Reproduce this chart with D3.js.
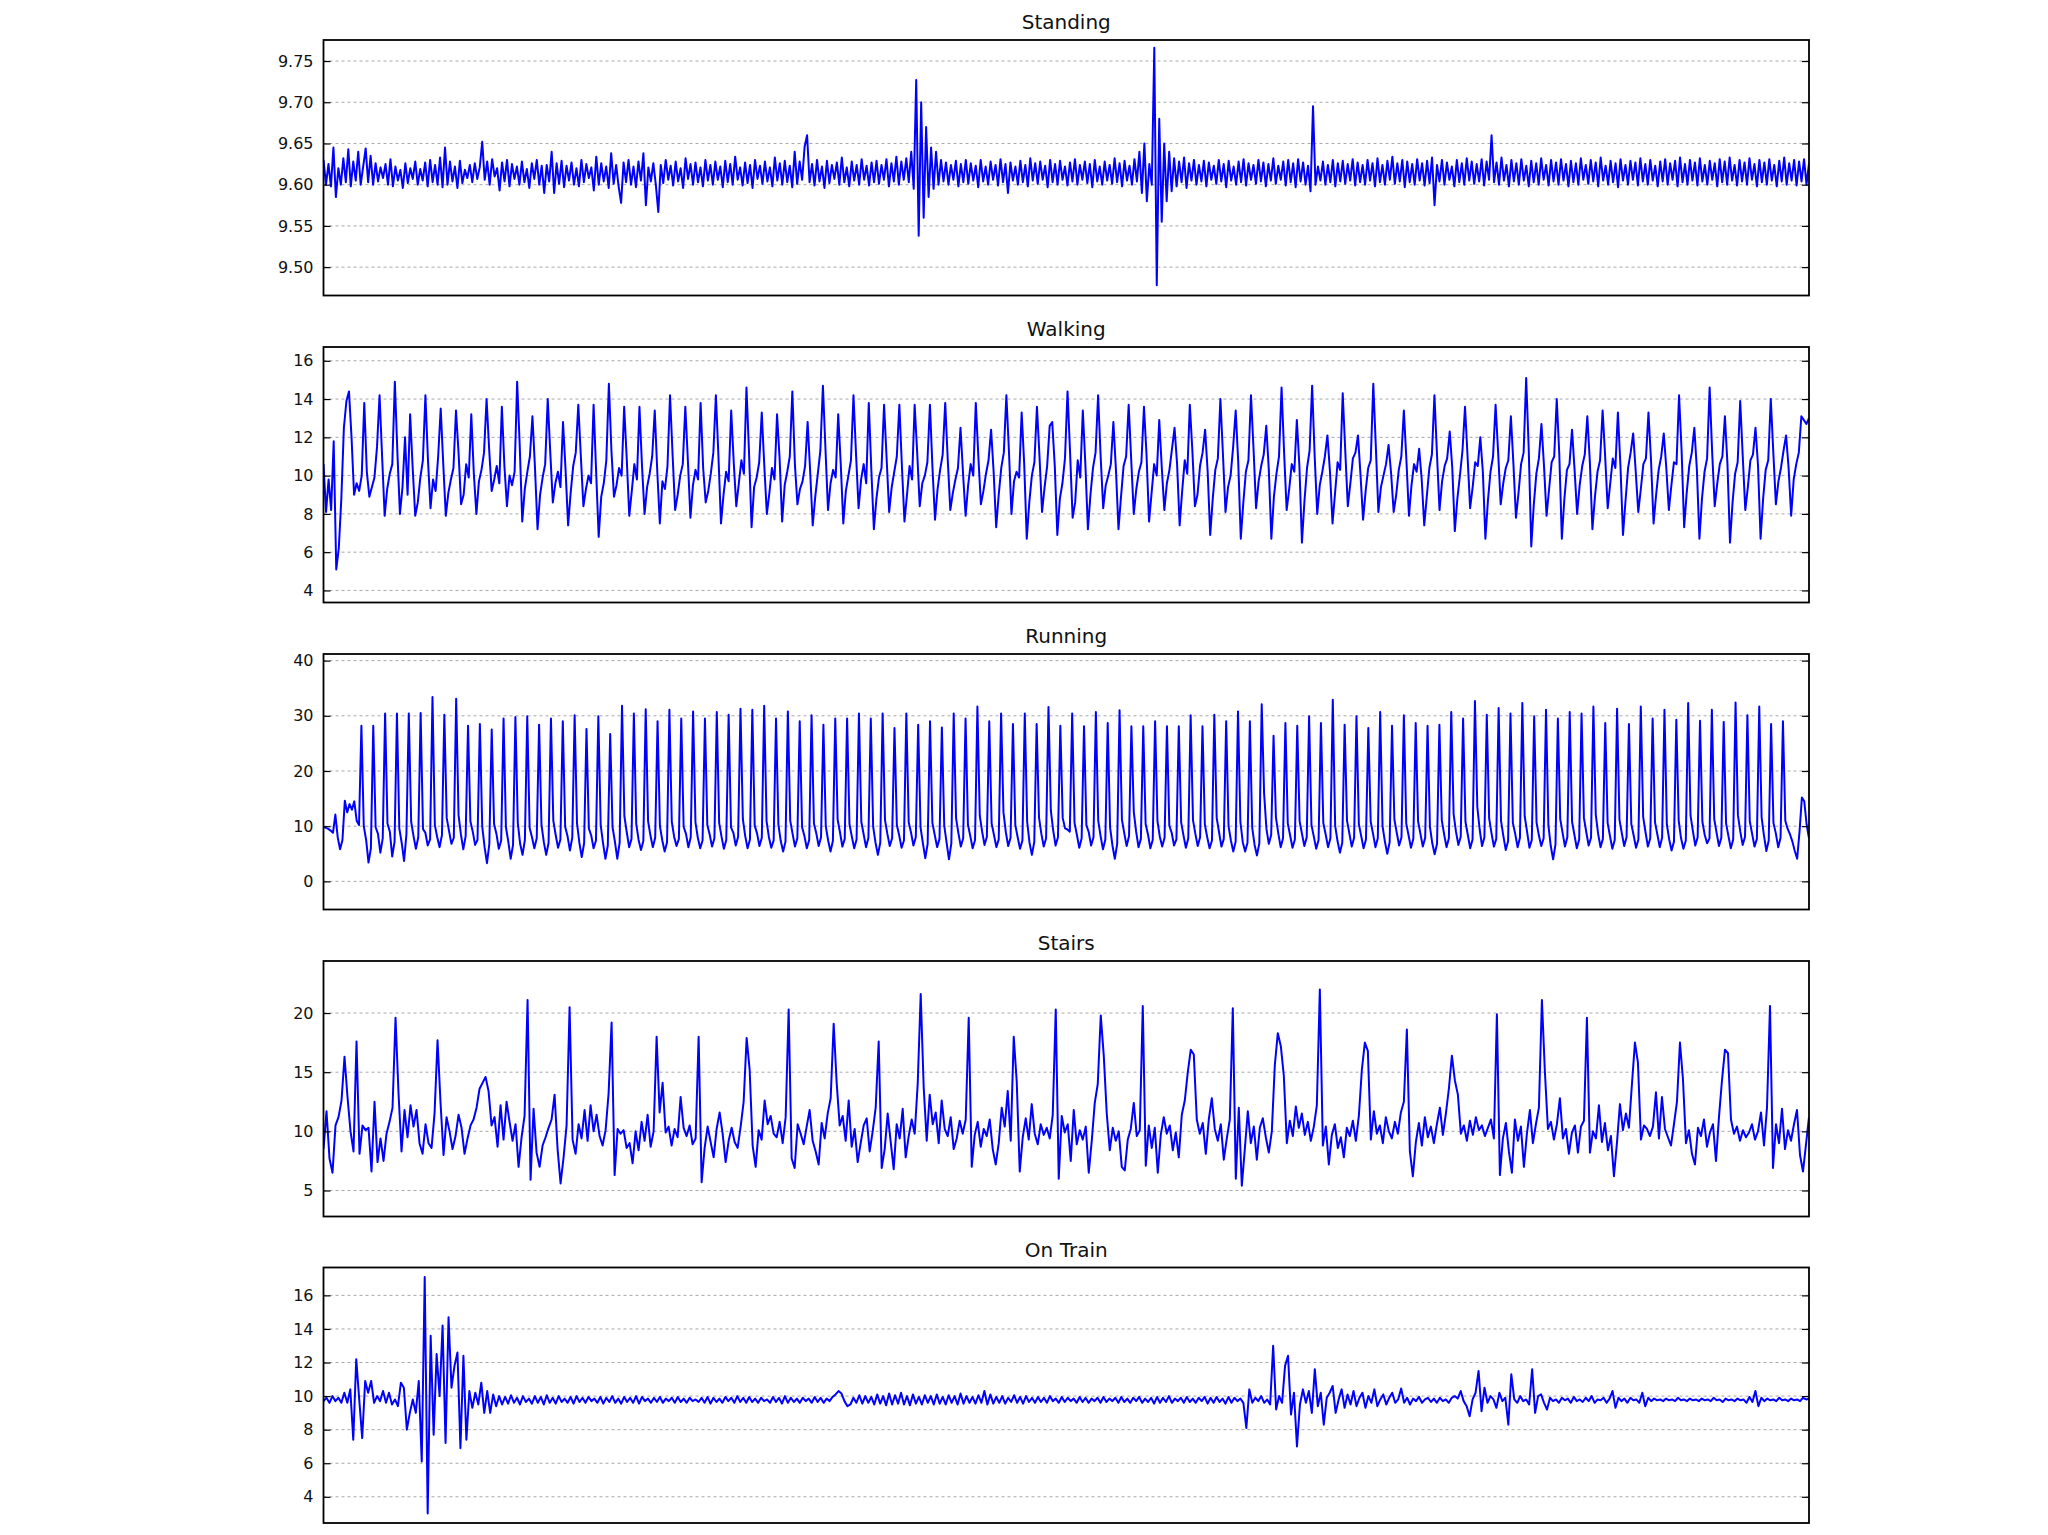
<!DOCTYPE html>
<html>
<head>
<meta charset="utf-8">
<script src="https://cdn.jsdelivr.net/npm/d3@7"></script>
<style>
  html, body { margin: 0; padding: 0; background: #fff; }
  svg { display: block; }
</style>
</head>
<body>
<svg id="chart" width="2048" height="1535"></svg>
<script>
// ---------------- DATA ----------------
const titles = ["Standing", "Walking", "Running", "Stairs", "On Train"];

const standing = [
9.63,9.60,9.625,9.598,9.645,9.585,9.62,9.60,9.632,9.603,9.643,9.598,9.628,9.605,9.64,9.600,9.622,9.644,9.603,9.635,
9.600,9.626,9.604,9.621,9.608,9.625,9.600,9.631,9.598,9.622,9.605,9.618,9.596,9.626,9.602,9.620,9.607,9.628,9.600,9.619,
9.605,9.627,9.598,9.630,9.603,9.624,9.600,9.633,9.597,9.645,9.600,9.628,9.604,9.622,9.596,9.629,9.602,9.618,9.608,9.624,
9.603,9.626,9.607,9.621,9.652,9.606,9.628,9.600,9.631,9.610,9.620,9.593,9.627,9.604,9.630,9.598,9.625,9.607,9.622,9.600,
9.628,9.603,9.619,9.596,9.626,9.607,9.630,9.600,9.623,9.590,9.624,9.604,9.640,9.590,9.626,9.601,9.629,9.597,9.623,9.605,
9.627,9.600,9.620,9.598,9.630,9.603,9.625,9.608,9.621,9.593,9.634,9.600,9.626,9.604,9.622,9.596,9.638,9.601,9.624,9.598,
9.578,9.627,9.603,9.630,9.600,9.622,9.597,9.628,9.605,9.638,9.575,9.621,9.604,9.626,9.600,9.567,9.624,9.602,9.630,9.606,
9.623,9.599,9.628,9.604,9.620,9.596,9.632,9.607,9.625,9.600,9.627,9.603,9.621,9.598,9.630,9.605,9.624,9.600,9.628,9.606,
9.622,9.597,9.629,9.603,9.625,9.600,9.634,9.606,9.621,9.599,9.627,9.602,9.624,9.596,9.630,9.607,9.623,9.601,9.628,9.604,
9.621,9.598,9.633,9.605,9.626,9.600,9.629,9.603,9.623,9.597,9.640,9.601,9.628,9.606,9.646,9.660,9.603,9.625,9.599,9.630,
9.604,9.622,9.596,9.629,9.602,9.624,9.607,9.627,9.600,9.633,9.603,9.621,9.598,9.628,9.605,9.624,9.600,9.631,9.606,9.623,
9.599,9.627,9.603,9.629,9.601,9.624,9.606,9.631,9.598,9.626,9.604,9.634,9.600,9.628,9.606,9.632,9.603,9.640,9.595,9.727,
9.538,9.700,9.560,9.670,9.585,9.645,9.595,9.640,9.600,9.630,9.604,9.627,9.600,9.624,9.606,9.629,9.598,9.625,9.603,9.630,
9.601,9.626,9.605,9.623,9.597,9.630,9.604,9.622,9.600,9.628,9.606,9.624,9.599,9.631,9.603,9.625,9.590,9.627,9.605,9.622,
9.600,9.629,9.603,9.624,9.598,9.632,9.605,9.626,9.601,9.628,9.606,9.623,9.597,9.630,9.603,9.625,9.600,9.629,9.606,9.622,
9.599,9.627,9.604,9.631,9.600,9.624,9.606,9.628,9.602,9.625,9.597,9.630,9.604,9.622,9.600,9.628,9.605,9.624,9.601,9.632,
9.603,9.626,9.598,9.629,9.605,9.623,9.600,9.631,9.604,9.640,9.590,9.650,9.580,9.625,9.600,9.766,9.478,9.680,9.555,9.650,
9.580,9.640,9.592,9.632,9.598,9.628,9.603,9.633,9.596,9.626,9.605,9.630,9.600,9.624,9.604,9.629,9.598,9.627,9.606,9.623,
9.601,9.630,9.604,9.625,9.597,9.629,9.605,9.622,9.600,9.628,9.603,9.631,9.599,9.626,9.606,9.624,9.601,9.630,9.604,9.627,
9.598,9.625,9.605,9.632,9.601,9.623,9.606,9.628,9.599,9.630,9.603,9.626,9.597,9.631,9.604,9.627,9.600,9.623,9.592,9.695,
9.600,9.622,9.605,9.628,9.600,9.624,9.603,9.630,9.598,9.626,9.604,9.629,9.601,9.625,9.605,9.631,9.599,9.627,9.603,9.624,
9.600,9.630,9.605,9.626,9.598,9.632,9.603,9.624,9.600,9.629,9.606,9.634,9.601,9.626,9.604,9.630,9.597,9.628,9.603,9.625,
9.600,9.631,9.605,9.626,9.599,9.629,9.602,9.633,9.575,9.624,9.604,9.630,9.600,9.627,9.606,9.622,9.598,9.630,9.603,9.626,
9.600,9.632,9.605,9.628,9.601,9.625,9.604,9.631,9.599,9.628,9.606,9.660,9.603,9.627,9.600,9.633,9.605,9.624,9.598,9.630,
9.604,9.626,9.600,9.631,9.605,9.623,9.598,9.629,9.603,9.626,9.600,9.632,9.606,9.624,9.599,9.630,9.604,9.627,9.600,9.631,
9.605,9.625,9.598,9.629,9.603,9.626,9.600,9.632,9.606,9.624,9.601,9.630,9.604,9.627,9.598,9.633,9.605,9.623,9.600,9.629,
9.603,9.626,9.597,9.631,9.605,9.624,9.600,9.629,9.606,9.627,9.599,9.632,9.604,9.625,9.600,9.630,9.605,9.623,9.598,9.628,
9.604,9.631,9.600,9.626,9.606,9.629,9.598,9.633,9.603,9.625,9.600,9.630,9.605,9.627,9.599,9.632,9.604,9.624,9.600,9.629,
9.606,9.626,9.598,9.631,9.603,9.628,9.600,9.633,9.605,9.624,9.599,9.630,9.604,9.627,9.600,9.632,9.606,9.625,9.598,9.630,
9.603,9.627,9.600,9.631,9.605,9.624,9.598,9.629,9.604,9.633,9.600,9.626,9.605,9.630,9.599,9.628,9.604,9.631,9.600,9.626
];

const walking = [
10.6,8.1,9.8,8.2,11.8,5.1,6.2,8.8,12.5,13.9,
14.4,12.0,9.0,9.6,9.2,10.0, 13.8,10.2,8.9,9.4,9.9,11.5, 14.2,11.0,7.9,9.3,10.1,10.6, 14.9,11.2,8.0,9.4,12.0,9.0,
13.2,10.4,7.9,8.6,9.9,10.8, 14.2,10.8,8.3,9.8,9.2,11.0, 13.5,10.6,7.9,9.1,9.8,10.4, 13.4,11.2,8.5,9.0,10.6,9.9,
13.2,10.1,8.0,9.7,10.3,11.2, 14.0,11.4,9.2,9.8,10.5,9.6, 13.6,10.5,8.4,10.0,9.5,10.2, 14.9,11.6,7.6,9.3,10.2,11.0,
13.1,10.4,7.2,9.0,9.9,10.6, 14.0,11.2,8.6,9.6,10.2,9.4, 12.8,10.3,7.4,9.1,10.5,11.2, 13.7,11.0,8.4,9.3,10.0,9.6,
13.7,10.2,6.8,8.9,9.6,10.8, 14.8,11.3,8.9,9.5,10.4,10.0, 13.6,10.9,7.9,9.2,10.6,9.8, 13.6,10.5,8.0,9.4,10.1,11.0,
13.4,10.2,7.5,9.7,9.3,10.5, 14.2,11.1,8.2,9.0,10.0,10.6, 13.6,10.8,7.8,9.5,10.3,9.8, 13.8,10.4,8.6,9.2,10.1,11.2,
14.2,11.0,7.5,9.0,10.2,9.7, 13.4,10.7,8.4,9.6,10.8,10.1, 14.6,11.2,7.3,9.4,9.9,10.7, 13.3,10.5,8.0,9.1,10.4,9.8,
13.2,10.9,7.6,9.5,10.2,11.0, 14.4,10.6,8.5,9.3,9.7,10.5, 12.8,10.2,7.4,8.9,10.1,11.3, 14.7,11.4,8.2,9.6,10.3,9.9,
13.2,10.6,7.5,9.2,10.0,10.8, 14.2,11.1,8.3,9.8,10.6,9.6, 13.8,10.3,7.2,8.8,9.9,10.4, 13.7,10.9,8.1,9.4,10.2,11.0,
13.7,10.5,7.6,9.0,10.5,9.8, 13.7,11.2,8.4,9.6,10.0,10.7, 13.7,10.4,7.7,9.3,10.3,11.1, 13.8,10.8,8.2,9.1,9.8,10.4,
12.5,10.1,7.9,9.5,10.6,10.0, 13.8,11.0,8.5,9.2,10.1,10.8, 12.4,10.2,7.3,9.0,10.4,11.2, 14.2,11.3,8.0,9.7,10.2,9.9,
13.3,10.6,6.7,8.6,10.0,10.7, 13.6,11.0,8.1,9.4,10.5,12.6, 12.8,10.5,6.9,8.8,9.6,10.9,
14.4,11.2,7.8,8.6,10.8,9.9, 13.4,10.6,7.2,9.0,10.4,11.2, 14.2,11.0,8.3,9.5,10.0,10.6, 12.8,10.3,7.2,8.9,10.5,11.0,
13.7,10.8,8.0,9.3,10.2,10.7, 13.6,11.1,7.6,9.1,10.6,10.0, 12.9,10.4,8.2,9.6,10.3,11.4, 12.5,10.6,7.4,9.2,10.8,10.1,
13.7,11.3,8.4,9.0,10.5,11.2, 12.4,10.2,6.9,8.8,10.3,10.9, 14.0,11.1,8.1,9.4,10.0,11.5, 13.4,10.7,6.7,8.6,10.2,10.8,
14.2,11.4,8.3,9.7,10.5,11.1, 12.6,10.3,6.7,8.9,10.1,11.0, 14.6,11.2,8.2,9.3,10.6,10.2, 12.9,10.5,6.5,8.7,10.4,11.3,
14.7,11.0,8.0,9.5,10.2,11.0, 12.1,10.2,7.5,9.1,10.7,10.3, 14.3,11.3,8.4,9.6,10.9,11.2, 12.1,10.0,7.7,9.2,10.4,10.8,
14.8,11.5,8.1,9.4,10.0,10.6, 11.6,10.1,8.1,9.0,10.3,11.0, 13.4,10.8,7.9,9.5,10.6,10.2, 11.4,9.8,7.4,8.9,10.4,11.1,
14.2,11.1,8.2,9.7,10.5,10.9, 12.3,10.4,7.1,8.8,10.0,11.3, 13.6,11.0,8.3,9.4,10.7,10.5, 12.0,10.2,6.7,8.7,10.2,11.0,
13.7,11.2,8.5,9.6,10.4,10.8, 13.1,10.6,7.8,9.1,10.6,11.2, 15.1,11.4,6.3,8.5,10.1,10.9, 12.7,10.5,7.9,9.3,10.7,11.0,
14.0,11.1,6.7,8.8,10.3,10.6, 12.4,10.3,8.0,9.5,10.5,11.1, 13.1,10.7,7.2,8.9,10.2,10.8, 13.4,11.0,8.3,9.6,10.9,10.4,
13.3,10.5,6.9,8.7,10.4,11.2, 12.2,10.2,8.1,9.3,10.6,10.9, 13.3,10.8,7.5,9.0,10.3,11.0, 12.2,10.4,8.2,9.5,10.7,10.6,
14.2,11.3,7.3,9.1,10.5,11.2, 12.5,10.3,6.7,8.8,10.2,10.9, 14.6,11.2,8.4,9.6,10.6,11.0, 13.1,10.6,6.5,8.6,10.1,10.7,
13.9,11.0,8.2,9.4,10.8,11.1, 12.5,10.5,6.7,8.8,10.3,10.8, 14.0,11.2,8.5,9.7,10.4,11.3, 12.1,10.4,7.9,9.8,10.6,11.2,
13.1,12.9,12.7,13.0
];

const running = [
9.9,9.7,9.5,9.2,8.8,12.1,8.0,5.8,7.5,14.6,12.5,14.0,13.0,14.5,11.0,10.2,
28.2,10.0,7.5,3.4,6.0, 28.2,9.8,8.6,5.2,7.8, 30.4,10.5,9.0,4.5,7.2, 30.4,9.6,7.0,3.7,8.5, 30.4,10.8,8.2,5.9,8.0,
30.5,9.5,8.8,6.5,7.6, 33.4,10.2,8.0,6.2,8.4, 30.2,11.5,9.1,6.8,7.9, 33.1,12.0,8.5,5.8,8.2, 28.2,10.9,9.0,6.6,7.5,
28.5,9.9,6.2,3.3,6.8, 27.5,10.4,8.6,5.9,7.4, 29.5,9.8,7.2,4.1,6.6, 29.8,10.6,6.8,4.8,7.5, 29.9,9.7,8.0,6.0,7.8,
28.4,10.3,7.1,4.8,7.0, 29.5,11.0,8.4,6.1,7.6, 29.0,9.9,8.2,5.6,7.9, 30.1,10.5,7.0,4.4,6.9, 27.6,9.6,8.3,6.0,7.4,
29.9,10.2,6.9,4.1,6.5, 26.7,9.8,7.2,4.1,7.0, 31.8,11.8,8.9,6.2,7.7, 30.4,10.4,7.5,5.7,7.3, 31.2,10.9,8.3,6.2,7.9,
29.0,10.0,7.4,5.4,7.1, 31.1,10.8,8.1,6.4,7.7, 29.5,9.9,8.6,6.2,8.0, 30.8,10.7,7.9,6.0,7.4, 29.5,10.2,8.5,6.3,7.8,
30.7,10.6,8.1,5.9,7.5, 30.2,9.8,8.8,6.5,8.1, 31.3,11.3,8.2,6.0,7.6, 31.1,10.1,8.7,6.4,7.9, 31.8,10.9,8.0,6.1,7.4,
29.5,10.3,7.3,5.4,7.2, 30.8,11.0,8.6,6.3,7.8, 29.0,9.8,8.2,6.0,7.5, 30.1,10.5,8.7,6.4,8.0, 28.4,10.0,7.4,5.4,7.3,
29.5,11.2,8.9,6.3,7.7, 29.5,10.4,8.1,6.0,7.6, 30.4,10.8,8.5,6.2,7.9, 29.5,9.9,7.0,4.8,7.0, 30.4,11.1,8.6,6.4,7.8,
27.8,10.2,8.3,6.1,7.4, 30.4,10.7,8.8,6.5,8.0, 28.4,9.8,6.9,4.2,6.8, 29.0,10.6,8.4,6.2,7.7, 27.9,10.1,7.0,4.0,6.9,
30.4,11.4,8.7,6.3,7.8, 29.5,10.3,8.2,6.0,7.5, 31.7,11.9,9.0,6.6,8.1, 29.0,10.5,8.4,6.2,7.6, 30.4,12.5,8.9,6.4,7.9,
28.5,10.2,8.0,5.9,7.4, 30.4,10.8,7.0,4.8,7.1, 28.5,11.6,8.6,6.3,7.8, 31.6,12.8,9.2,6.5,8.0, 28.2,11.5,9.6,9.4,9.0,
30.4,10.6,8.4,6.1,7.8, 28.1,10.2,8.9,6.5,8.0, 30.7,11.0,8.2,5.8,7.6, 28.7,9.8,6.5,4.1,6.8, 31.0,11.2,8.7,6.4,8.2,
28.1,12.6,9.0,6.2,7.7, 28.1,10.4,8.5,6.0,7.5, 29.0,10.9,8.1,6.3,7.9, 28.1,10.1,8.8,6.5,7.6, 28.1,10.7,8.3,6.1,7.8,
30.1,11.1,8.6,6.4,8.0, 28.1,10.3,8.0,6.0,7.4, 30.2,11.5,8.9,6.3,7.7, 29.0,10.0,7.4,5.4,7.2, 30.8,10.8,7.1,5.4,7.0,
29.0,9.7,6.6,4.7,6.9, 32.1,16.0,9.5,6.8,8.4, 26.4,11.6,8.7,6.2,7.8, 28.7,10.5,8.3,6.1,7.6, 28.2,10.9,8.6,6.4,8.0,
29.9,10.2,8.1,5.9,7.5, 28.7,10.6,8.5,6.2,7.8, 32.9,10.1,7.3,5.2,7.0, 28.4,11.0,8.7,6.3,7.9, 29.9,10.4,8.2,6.0,7.6,
27.8,10.8,8.6,6.2,7.8, 30.7,10.0,7.2,5.0,7.1, 28.2,11.2,8.8,6.5,8.0, 30.1,10.5,8.3,6.1,7.7, 28.7,10.9,8.6,6.3,7.9,
28.2,9.9,6.9,4.9,6.8, 28.4,11.1,8.5,6.2,7.8, 30.7,12.2,9.0,6.6,8.1, 29.5,10.8,8.4,6.0,7.6, 32.7,13.5,9.4,6.4,8.0,
30.2,11.4,8.7,6.3,7.7, 31.4,11.0,8.2,5.7,7.3, 30.4,10.6,8.6,6.2,7.9, 32.3,11.8,9.0,6.1,7.5, 29.9,10.7,8.3,6.4,7.8,
31.1,10.2,6.4,4.0,6.7, 29.5,11.3,8.8,6.3,8.0, 30.7,10.8,8.4,6.0,7.6, 30.4,11.5,8.9,6.5,7.9, 31.7,12.1,8.6,6.2,7.7,
28.7,10.6,8.2,5.9,7.5, 31.3,11.2,8.7,6.4,8.0, 28.5,10.4,8.3,6.1,7.6, 31.7,11.7,8.9,6.3,7.8, 29.5,10.7,8.5,6.2,7.9,
31.1,10.3,7.6,5.6,7.2, 29.3,11.0,7.8,5.9,7.4, 32.3,11.9,9.1,6.5,8.0, 29.1,10.8,8.4,6.9,7.8, 31.1,11.3,8.8,6.4,7.9,
28.9,10.5,8.2,6.0,7.6, 32.4,12.0,9.0,6.6,8.1, 30.1,10.9,8.6,6.3,7.7, 31.7,11.6,8.3,5.5,7.4, 28.5,10.6,8.7,6.2,7.9,
29.0,11.0,9.5,8.5,7.2,
5.5,4.1,9.0,15.2,14.5,10.3,7.8
];

const stairs = [
8.5,11.7,7.7,6.5,10.5,11.2,12.6, 16.3, 12.9,10.0,8.3, 17.6,
8.1,10.5,10.1,10.3,6.6,12.5,7.4,9.4,7.5,9.8,10.8,12.0, 19.6,
13.2,8.3,11.8,9.5,12.2,10.4,11.8,9.0,8.1,10.6,9.0,8.6,11.5, 17.7,
12.4,8.0,11.2,10.0,8.5,9.6,11.4,10.3,8.1,9.4,10.5,11.0,12.0,13.6,14.1, 14.6,
13.4,10.5,11.2,8.7,12.2,9.3,12.5,10.8,9.2,10.6,7.0,9.5,11.3, 21.1,
5.9,11.9,8.2,7.0,8.8,9.5,10.3,11.0,13.1,8.5,5.6,7.8,10.5, 20.5,
9.3,8.1,10.6,9.4,11.8,9.2,12.2,10.0,11.4,9.6,8.8,10.1,13.2, 19.2,
6.3,10.2,9.8,10.1,8.6,9.0,7.3,10.0,8.4,10.8,9.2,11.4,8.7,10.0, 18.0,
11.6,14.1,9.9,10.4,8.8,10.2,9.5,12.9,10.3,9.6,10.5,8.9,9.4, 18.0,
5.7,8.6,10.4,9.1,7.8,10.2,11.6,9.8,7.4,9.2,10.3,9.1,8.6,10.4,12.5, 17.9,
15.2,8.8,7.0,10.1,9.3,12.6,10.6,11.3,9.8,9.5,10.8,9.0,11.2, 20.3,
7.7,6.9,10.6,9.8,8.9,10.4,11.8,9.2,8.3,7.2,10.7,9.4,11.5,12.8, 19.1,
14.1,10.5,11.3,9.2,12.6,8.7,10.2,7.4,9.0,10.5,11.1,8.3,10.0,12.0, 17.6,
6.9,8.5,11.5,9.1,6.8,10.6,9.4,11.9,7.8,9.6,11.0,9.8,14.0, 21.6,
13.7,9.2,13.1,10.6,11.6,9.0,12.6,10.2,9.6,11.2,8.5,9.4,10.9,9.8,11.0, 19.6,
7.0,9.7,10.8,8.7,10.2,9.6,11.0,8.5,7.2,9.0,12.0,10.4,13.4,9.2, 18.0,
14.2,6.6,9.5,11.1,9.3,12.3,9.8,8.9,10.6,9.7,10.3,9.4,11.4, 20.3,
6.0,11.3,9.9,10.6,7.5,11.8,8.9,10.1,9.3,10.4,6.5,9.2,12.4,14.0, 19.8,
16.4,11.5,8.4,10.3,9.2,10.0,7.0,6.7,9.3,10.2,12.4,9.6,10.1, 20.6,
7.1,10.5,8.6,10.3,6.5,9.7,11.2,9.8,10.5,8.4,9.9,7.8,11.4,12.6,15.0, 16.9,
16.5,11.0,9.8,10.7,8.1,11.0,12.8,10.2,9.2,10.6,7.6,9.4,11.0, 20.4,
6.0,12.0,5.4,8.5,11.7,9.0,10.4,7.6,10.3,11.1,9.5,8.2,10.0,15.6, 18.3,
17.2,14.7,9.0,10.9,9.6,12.1,10.3,11.5,9.7,10.8,9.2,10.4,12.2, 22.0,
8.8,10.4,7.2,9.7,10.6,8.6,9.5,7.8,10.3,9.6,10.9,9.2,11.3,15.2, 17.5,
16.8,9.3,11.7,9.8,10.5,9.0,11.2,10.0,9.4,10.8,9.8,11.6,12.5, 18.6,
8.3,6.2,9.1,10.7,8.8,11.2,9.5,10.4,9.0,10.6,12.0,9.7,11.5,13.6, 16.4,
14.3,13.1,9.8,10.5,9.2,10.9,9.7,11.2,10.1,10.5,9.6,10.3,11.0,9.4, 19.9,
6.3,9.4,10.7,8.3,6.5,11.0,9.2,10.4,7.0,9.8,11.8,9.0,10.6,12.0, 21.1,
15.0,10.2,10.8,9.3,10.6,12.8,9.4,10.2,8.1,9.9,10.5,8.2,10.4,10.9, 19.6,
8.2,10.0,9.4,12.2,9.1,10.7,8.4,9.6,6.2,9.0,12.3,10.1,11.5,10.3,14.0, 17.5,
15.8,9.3,10.5,10.2,9.6,10.4,13.3,9.4,12.9,10.2,9.5,8.8,10.6,12.5, 17.5,
14.4,9.0,10.1,8.1,7.2,10.3,9.6,11.0,8.7,9.9,10.6,7.5,11.2,14.3, 16.9,
16.6,11.0,9.8,10.4,9.2,10.1,9.5,9.9,10.6,9.3,10.0,11.6,8.8,12.0, 20.6,
6.9,10.6,9.0,11.9,8.5,10.1,9.2,10.6,11.8,8.0,6.6,8.9,11.2
];

const onTrain = [
9.7,9.9,9.6,10.0,9.7,9.9,9.6,
10.2,9.6,10.4,7.4,12.2,
9.8,7.5,10.9,10.2,10.9,9.6,10.0,9.7,10.3,9.6,10.2,9.5,9.8,9.4,
10.8,10.5,8.0,9.0,9.8,9.0,10.9,
6.1,
17.1,3.0,13.6,7.7,12.5,10.0,14.2,7.2,14.7,10.5,11.8,12.6,6.9,12.4,7.4,
10.3,9.3,10.2,9.5,10.8,9.0,10.3,9.0,10.1,9.4,10.0,9.5,
9.95,9.55,10.05,9.6,9.9,9.5,10.0,9.65,9.85,9.55,10.0,9.6,9.95,9.5,10.05,9.6,9.9,9.55,10.0,9.65,
9.85,9.6,9.95,9.55,10.0,9.65,9.9,9.6,9.95,9.7,9.85,9.6,9.95,9.55,9.9,9.65,10.0,9.6,9.85,9.55,
9.95,9.65,9.9,9.6,10.0,9.55,9.95,9.7,9.85,9.6,9.9,9.65,9.95,9.6,9.85,9.7,9.9,9.6,9.95,9.65,
9.85,9.6,9.9,9.7,9.8,9.65,9.9,9.6,9.95,9.55,9.9,9.65,9.85,9.6,9.95,9.7,9.9,9.6,10.0,9.65,
9.9,9.6,9.95,9.65,9.85,9.6,9.9,9.7,9.8,9.6,9.95,9.65,9.9,9.55,10.0,9.6,9.9,9.65,9.85,9.6,
9.9,9.7,9.85,9.6,9.95,9.65,9.9,9.6,9.85,9.7,9.95,10.1,10.3,10.15,9.7,9.4,9.5,9.9,9.6,10.05,
9.55,10.0,9.6,9.95,9.5,10.1,9.55,10.0,9.45,10.15,9.5,10.05,9.55,10.2,9.5,10.0,9.45,10.1,9.55,9.95,
9.5,10.05,9.6,10.0,9.5,10.1,9.55,9.95,9.5,10.05,9.6,10.0,9.5,10.15,9.55,10.0,9.6,9.95,9.55,10.05,
9.6,10.3,9.5,10.1,9.55,9.95,9.6,10.0,9.55,9.9,9.65,10.05,9.6,9.95,9.55,10.0,9.65,9.9,9.6,9.95,
9.65,9.9,9.6,10.0,9.7,9.85,9.6,9.95,9.65,9.9,9.7,9.85,9.6,9.95,9.65,9.9,9.6,9.85,9.7,9.9,
9.6,9.95,9.65,9.85,9.7,9.9,9.6,9.95,9.65,9.85,9.6,9.9,9.7,9.95,9.6,9.85,9.65,9.9,9.55,9.95,
9.6,9.9,9.65,10.0,9.6,9.85,9.7,9.9,9.6,9.95,9.65,9.85,9.6,9.9,9.7,9.95,9.55,9.9,9.6,9.95,
9.65,9.85,9.55,9.95,9.6,9.9,9.7,9.85,9.6,
8.1,10.4,9.6,9.9,9.7,10.0,9.6,9.8,9.5,13.0,9.2,10.0,9.6,11.8,12.4,8.9,10.2,7.0,9.5,10.4,
9.6,10.3,9.0,11.6,9.4,10.2,8.3,9.9,10.2,10.6,9.0,9.8,10.4,9.3,10.1,
9.5,10.3,9.4,9.9,10.2,9.3,10.0,9.6,10.4,9.4,9.8,10.1,9.5,9.9,10.2,9.6,9.8,10.45,9.6,9.9,
9.5,9.85,9.7,9.95,9.6,9.8,9.9,9.65,9.85,9.6,9.9,9.7,9.8,9.6,9.9,10.0,9.85,
10.3,9.7,9.4,8.8,9.8,10.2,11.5,9.1,10.5,9.6,10.0,9.8,9.3,10.2,9.7,9.9,8.3,11.3,9.8,9.6,
10.0,9.7,9.8,9.5,11.6,9.0,10.0,10.1,9.6,9.2,
9.9,9.7,9.8,9.6,9.9,9.75,9.85,9.6,9.95,9.7,9.8,9.65,9.9,9.7,10.0,9.6,9.8,9.75,9.9,9.6,
9.85,10.3,9.3,9.9,9.7,9.85,9.6,9.9,9.75,9.8,9.6,10.2,9.4,9.9,9.7,9.85,9.75,9.8,9.7,9.85,
9.75,9.8,9.7,9.9,9.75,9.8,9.7,9.85,9.75,9.8,9.7,9.85,9.75,9.8,9.7,9.9,9.75,9.8,9.65,9.85,
9.75,9.8,9.7,9.85,9.75,9.8,9.6,9.95,9.65,10.3,9.4,9.9,9.7,9.85,9.75,9.8,9.7,9.9,9.75,9.8,
9.7,9.85,9.75,9.8,9.7,9.9,9.8,9.85
];

const series = [standing, walking, running, stairs, onTrain];

// axis limits and tick labels per panel
const yLimits = [[9.4656, 9.7755], [3.37, 16.72], [-5.1, 41.2], [2.8, 24.4], [2.44, 17.66]];
const yTickValues = [
  [9.50, 9.55, 9.60, 9.65, 9.70, 9.75],
  [4, 6, 8, 10, 12, 14, 16],
  [0, 10, 20, 30, 40],
  [5, 10, 15, 20],
  [4, 6, 8, 10, 12, 14, 16]
];
const yTickFormats = [".2f", "d", "d", "d", "d"];

// ---------------- LAYOUT ----------------
const left = 323.5, right = 1809;
const panelTops = [40, 347, 654, 961, 1267.5];
const panelH = 255.5;

const svg = d3.select("#chart");
const font = "DejaVu Sans, Liberation Sans, sans-serif";

series.forEach((data, p) => {
  const top = panelTops[p], bottom = top + panelH;
  const x = d3.scaleLinear().domain([0, data.length - 1]).range([left, right]);
  const y = d3.scaleLinear().domain(yLimits[p]).range([bottom, top]);

  const g = svg.append("g");

  g.append("clipPath").attr("id", "clip" + p)
    .append("rect").attr("x", left).attr("y", top)
    .attr("width", right - left).attr("height", panelH);

  // grid
  g.selectAll(".grid").data(yTickValues[p]).enter().append("line")
    .attr("x1", left).attr("x2", right)
    .attr("y1", d => y(d)).attr("y2", d => y(d))
    .attr("stroke", "#a8a8a8").attr("stroke-width", 1)
    .attr("stroke-dasharray", "3,3");

  // line
  const line = d3.line().x((d, i) => x(i)).y(d => y(d));
  g.append("path").datum(data)
    .attr("clip-path", "url(#clip" + p + ")")
    .attr("d", line)
    .attr("fill", "none")
    .attr("stroke", "#0000ff")
    .attr("stroke-width", 2)
    .attr("stroke-linejoin", "round");

  // left axis (ticks inward)
  const axL = d3.axisLeft(y).tickValues(yTickValues[p])
    .tickFormat(d3.format(yTickFormats[p]))
    .tickSizeInner(-7).tickSizeOuter(0).tickPadding(10);
  const gl = g.append("g").attr("transform", `translate(${left},0)`).call(axL);
  gl.select(".domain").remove();
  gl.selectAll("line").attr("stroke", "#000").attr("stroke-width", 1.2);
  gl.selectAll("text").attr("font-family", font).attr("font-size", 16).attr("fill", "#111");

  const axR = d3.axisRight(y).tickValues(yTickValues[p])
    .tickFormat("").tickSizeInner(-7).tickSizeOuter(0);
  const gr = g.append("g").attr("transform", `translate(${right},0)`).call(axR);
  gr.select(".domain").remove();
  gr.selectAll("line").attr("stroke", "#000").attr("stroke-width", 1.2);

  // frame
  g.append("rect").attr("x", left).attr("y", top)
    .attr("width", right - left).attr("height", panelH)
    .attr("fill", "none").attr("stroke", "#000").attr("stroke-width", 1.8);

  // title
  g.append("text").attr("x", (left + right) / 2).attr("y", top - 11)
    .attr("text-anchor", "middle")
    .attr("font-family", font).attr("font-size", 20).attr("fill", "#111")
    .text(titles[p]);
});
</script>
</body>
</html>
